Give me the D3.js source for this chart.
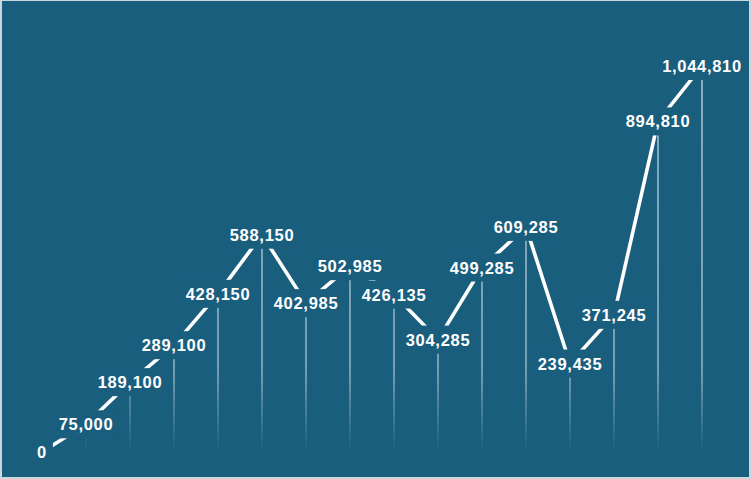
<!DOCTYPE html>
<html>
<head>
<meta charset="utf-8">
<script src="https://cdn.jsdelivr.net/npm/d3@7"></script>
<style>
  html, body { margin: 0; padding: 0; background: #fff; }
  svg { display: block; }
</style>
</head>
<body>
<svg id="chart" width="752" height="479"></svg>
<script>
// running totals, one per step
const steps = ['s0', 's1', 's2', 's3', 's4', 's5', 's6', 's7', 's8', 's9', 's10', 's11', 's12', 's13', 's14', 's15'];
const totals = [0, 75000, 189100, 289100, 428150, 588150, 402985, 502985, 426135, 304285, 499285, 609285, 239435, 371245, 894810, 1044810];

const bg = '#1a5e7e';
const width = 752, height = 479;

const svg = d3.select('#chart');

// frame + background
svg.append('rect').attr('width', width).attr('height', height).attr('fill', '#c9d7de');
svg.append('rect').attr('x', 2).attr('y', 1).attr('width', width - 5).attr('height', height - 3).attr('fill', bg);

const data = steps.map((s, i) => ({ step: s, value: totals[i] }));

const x = d3.scalePoint().domain(steps).range([42, 702]);
const y = d3.scaleLinear().domain([0, d3.max(totals)]).range([452, 66]);

const fmt = d3.format(',');

// fading drop lines
const grad = svg.append('defs').append('linearGradient')
  .attr('id', 'drop')
  .attr('gradientUnits', 'userSpaceOnUse')
  .attr('x1', 0).attr('x2', 0)
  .attr('y1', y.range()[1]).attr('y2', y(0) - 2);
grad.append('stop').attr('offset', '0%').attr('stop-color', '#fff').attr('stop-opacity', 0.62);
grad.append('stop').attr('offset', '80%').attr('stop-color', '#fff').attr('stop-opacity', 0.5);
grad.append('stop').attr('offset', '100%').attr('stop-color', '#fff').attr('stop-opacity', 0);

svg.append('g').selectAll('line').data(data.filter(d => d.value > 0)).join('line')
  .attr('x1', d => x(d.step)).attr('x2', d => x(d.step))
  .attr('y1', d => y(d.value)).attr('y2', y(0) - 2)
  .attr('stroke', 'url(#drop)')
  .attr('stroke-width', 1.6);

// the running line
const line = d3.line().x(d => x(d.step)).y(d => y(d.value));
svg.append('path').datum(data)
  .attr('d', line)
  .attr('fill', 'none')
  .attr('stroke', '#fff')
  .attr('stroke-width', 3.6)
  .attr('stroke-linejoin', 'round');

// labels sit on the points, masking the line
const labels = svg.append('g').selectAll('g').data(data).join('g')
  .attr('transform', d => `translate(${x(d.step)},${y(d.value)})`);

const txt = labels.append('text')
  .attr('y', 6)
  .attr('text-anchor', 'middle')
  .attr('fill', '#fff')
  .attr('font-family', '"Liberation Sans", Arial, sans-serif')
  .attr('font-weight', 'bold')
  .attr('font-size', 16.5)
  .attr('letter-spacing', 0.7)
  .text(d => fmt(d.value));

txt.each(function () {
  const w = this.getComputedTextLength();
  d3.select(this.parentNode).insert('rect', 'text')
    .attr('x', -w / 2 - 6)
    .attr('y', -14)
    .attr('width', w + 12)
    .attr('height', 28)
    .attr('fill', bg);
});
</script>
</body>
</html>
